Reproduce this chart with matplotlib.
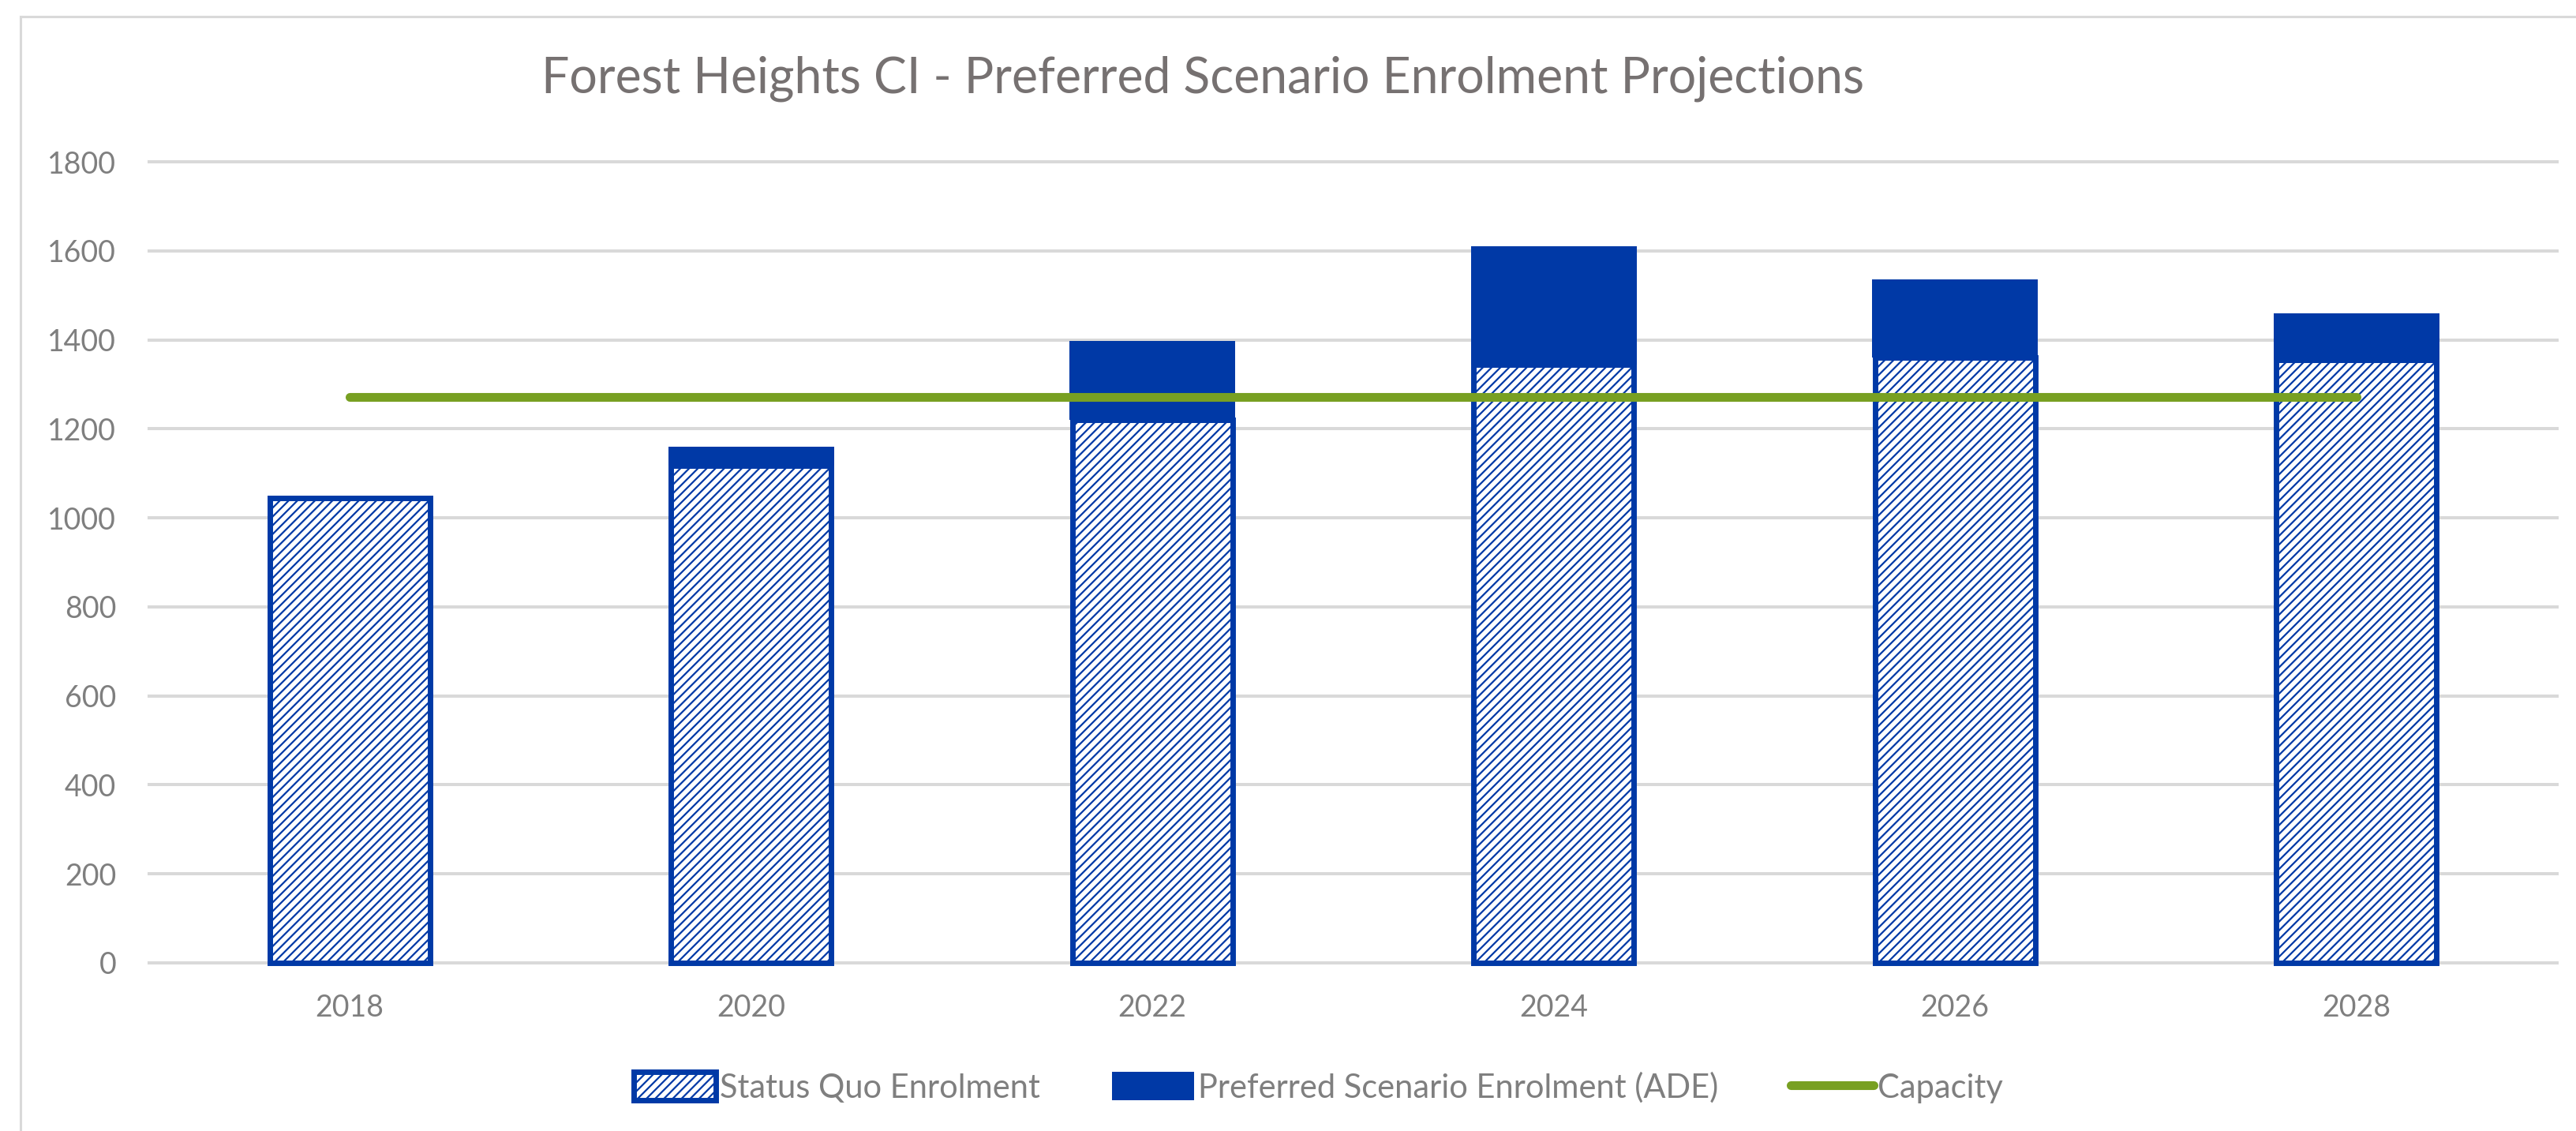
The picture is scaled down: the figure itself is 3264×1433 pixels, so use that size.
import numpy as np
import matplotlib
matplotlib.use("Agg")
import matplotlib.pyplot as plt
from matplotlib.lines import Line2D

plt.rcParams['font.family'] = ['Lato', 'DejaVu Sans']
plt.rcParams['hatch.linewidth'] = 1.6

years = ["2018", "2020", "2022", "2024", "2026", "2028"]
status_quo = [1045, 1118, 1220, 1345, 1360, 1355]
preferred_extra = [0, 42, 177, 265, 176, 105]
capacity = [1272, 1272, 1272, 1272, 1272, 1272]

blue = "#0039A6"
green = "#78A022"
grid_grey = "#D9D9D9"
text_grey = "#7F7F7F"

W, H = 3264, 1433
fig = plt.figure(figsize=(W / 100, H / 100), dpi=100)
ax = fig.add_axes([189 / W, 1 - 1220 / H, (3240 - 189) / W, (1220 - 205) / H])

x = np.arange(len(years))
sq = ax.bar(x, status_quo, width=0.40, color="white", edgecolor=blue, linewidth=5,
            hatch="///", zorder=2, clip_on=False, label="Status Quo Enrolment")
pref = ax.bar(x, preferred_extra, width=0.413, bottom=status_quo, color=blue,
              linewidth=0, zorder=3, clip_on=False, label="Preferred Scenario Enrolment (ADE)")
cap, = ax.plot(x, capacity, color=green, linewidth=8, solid_capstyle="round", zorder=4,
               label="Capacity")

ax.set_xlim(-0.5, len(years) - 0.5)
ax.set_ylim(0, 1800)
ax.set_yticks(np.arange(0, 1801, 200))
ax.set_xticks(x)
ax.set_xticklabels(years)
ax.grid(axis="y", color=grid_grey, linewidth=2.9, zorder=0)
ax.set_axisbelow(True)
for gl in ax.get_ygridlines():
    gl.set_clip_on(False)
for s in ax.spines.values():
    s.set_visible(False)
ax.tick_params(axis="both", length=0, labelsize=27, labelcolor=text_grey)
ax.tick_params(axis="y", pad=30)
ax.tick_params(axis="x", pad=28)

fig.text(0.467, 1 - 100 / H, "Forest Heights CI - Preferred Scenario Enrolment Projections",
         ha="center", va="center", fontsize=45, color="#767171")

# chart area border (top and left visible)
fig.add_artist(Line2D([26 / W, 26 / W], [0, 1 - 21 / H], transform=fig.transFigure,
                      color=grid_grey, linewidth=2.2))
fig.add_artist(Line2D([26 / W, 1], [1 - 21 / H, 1 - 21 / H], transform=fig.transFigure,
                      color=grid_grey, linewidth=2.2))

fig.legend([sq, pref, cap],
           ["Status Quo Enrolment", "Preferred Scenario Enrolment (ADE)", "Capacity"],
           loc="center", bbox_to_anchor=(1670 / W, 1 - 1378 / H), ncol=3,
           frameon=False, fontsize=30, labelcolor=text_grey,
           handlelength=2.5, handleheight=0.95, handletextpad=0.12,
           columnspacing=2.2)

fig.savefig("out.png", dpi=100)
